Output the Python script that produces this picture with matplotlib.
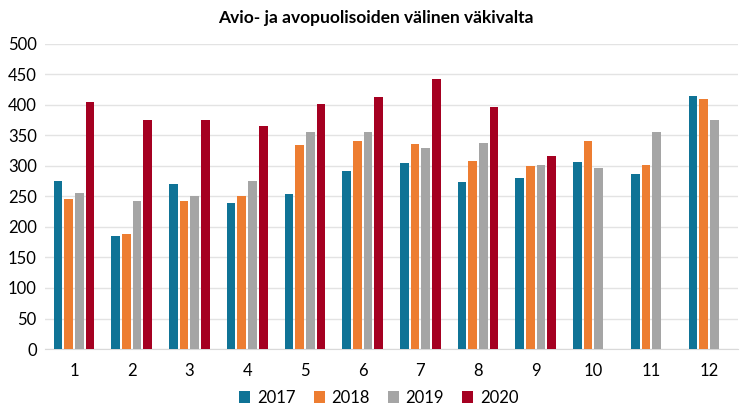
import matplotlib
matplotlib.use("Agg")
import matplotlib.pyplot as plt
import numpy as np

months = ["1", "2", "3", "4", "5", "6", "7", "8", "9", "10", "11", "12"]
years = ["2017", "2018", "2019", "2020"]
v2017 = [276, 185, 271, 240, 254, 291, 305, 274, 280, 306, 287, 414]
v2018 = [245, 188, 243, 250, 335, 341, 336, 308, 300, 340, 302, 410]
v2019 = [255, 242, 250, 275, 355, 356, 329, 337, 302, 297, 355, 375]
v2020 = [405, 375, 375, 365, 402, 413, 443, 397, 317, None, None, None]

COLORS = ["#0f7396", "#ed7d31", "#a5a5a5", "#a50021"]

plt.rcParams["font.family"] = ["Lato", "DejaVu Sans"]

fig = plt.figure(figsize=(7.4, 4.17), dpi=100)
ax = fig.add_axes([0.061, 0.163, 0.936, 0.732])

x = np.arange(len(months))
step = 0.185
width = 0.15
for i, (label, vals) in enumerate(zip(years, [v2017, v2018, v2019, v2020])):
    xs = [xi + (i - 1.5) * step for xi, v in zip(x, vals) if v is not None]
    ys = [v for v in vals if v is not None]
    ax.bar(xs, ys, width=width, color=COLORS[i], label=label, zorder=3)

ax.set_xlim(-0.5, len(months) - 0.5)
ax.set_ylim(0, 500)
ax.set_yticks(range(0, 501, 50))
ax.set_xticks(x)
ax.set_xticklabels(months)
ax.grid(axis="y", color="#e3e3e3", linewidth=1, zorder=0)
for s in ["top", "right", "left"]:
    ax.spines[s].set_visible(False)
ax.spines["bottom"].set_color("#d9d9d9")
ax.tick_params(axis="both", length=0, labelsize=12, colors="black")
ax.tick_params(axis="x", pad=10)
ax.tick_params(axis="y", pad=6)

fig.suptitle("Avio- ja avopuolisoiden välinen väkivalta", x=0.508, y=0.975,
             fontsize=12.5, fontweight="bold")
fig.legend(loc="center", bbox_to_anchor=(0.512, 0.046), ncol=4, frameon=False,
           fontsize=12, handlelength=0.65, handleheight=0.65, handletextpad=0.4,
           columnspacing=1.1)

plt.savefig("out.png", dpi=100)
plt.close()
